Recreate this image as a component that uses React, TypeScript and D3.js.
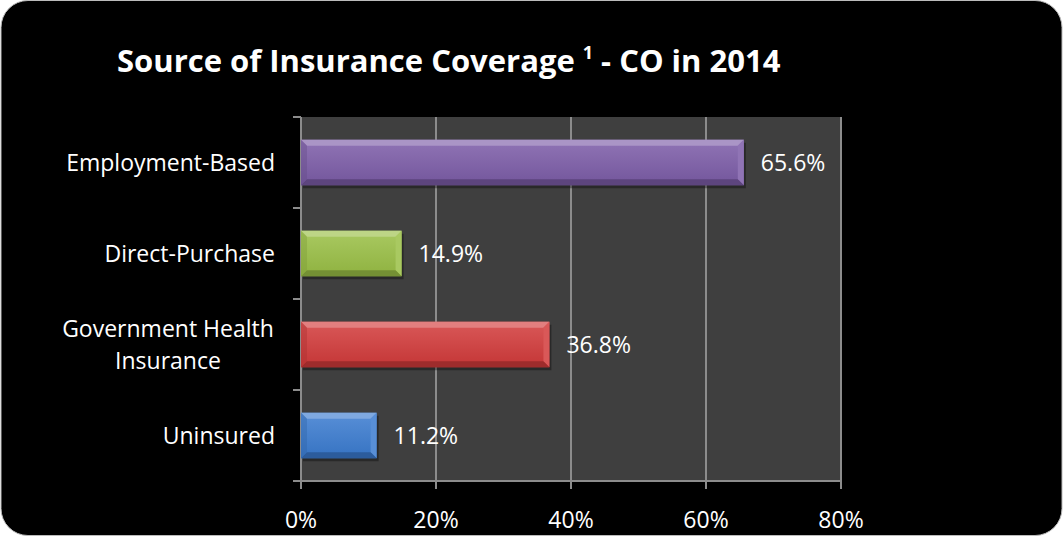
import React from "react";
import * as d3 from "d3";

const categories = ["Employment-Based", "Direct-Purchase", "Government Health\nInsurance", "Uninsured"];
const values = [65.6, 14.9, 36.8, 11.2];
const valueLabels = ["65.6%", "14.9%", "36.8%", "11.2%"];
const barColors = ["#7c5ca8", "#9abf45", "#d23a3a", "#3a7bd0"];
const xTicks = [0, 20, 40, 60, 80];
const xTickLabels = ["0%", "20%", "40%", "60%", "80%"];

const W = 1064, H = 537;
const plot = { left: 301, right: 841, top: 117, bottom: 481 };
const FONT = "'Open Sans', 'Noto Sans', sans-serif";
const FS = 23;

function Bar({ id, x0, x1, y0, y1, color }: { id: string; x0: number; x1: number; y0: number; y1: number; color: string }) {
  const b = 6;
  const c = d3.color(color)!;
  const light = d3.interpolateRgb(color, "#ffffff")(0.35);
  const lighter = d3.interpolateRgb(color, "#ffffff")(0.15);
  const dark = c.darker(0.6).formatHex();
  const darker = c.darker(0.8).formatHex();
  const pts = (a: number[][]) => a.map((p) => p.join(",")).join(" ");
  return (
    <g>
      <defs>
        <linearGradient id={id} x1="0" y1="0" x2="0" y2="1">
          <stop offset="0" stopColor={lighter} />
          <stop offset="1" stopColor={c.darker(0.2).formatHex()} />
        </linearGradient>
      </defs>
      <rect x={x0 + 2} y={y0 + 3} width={x1 - x0} height={y1 - y0} fill="#000" opacity={0.35} />
      <rect x={x0} y={y0} width={x1 - x0} height={y1 - y0} fill={`url(#${id})`} />
      <polygon points={pts([[x0, y0], [x1, y0], [x1 - b, y0 + b], [x0 + b, y0 + b]])} fill={light} />
      <polygon points={pts([[x1, y0], [x1, y1], [x1 - b, y1 - b], [x1 - b, y0 + b]])} fill={lighter} />
      <polygon points={pts([[x0, y1], [x1, y1], [x1 - b, y1 - b], [x0 + b, y1 - b]])} fill={darker} />
      <polygon points={pts([[x0, y0], [x0 + b, y0 + b], [x0 + b, y1 - b], [x0, y1]])} fill={dark} opacity={0.4} />
    </g>
  );
}

export default function App() {
  const x = d3.scaleLinear().domain([0, 80]).range([plot.left, plot.right]);
  const y = d3.scaleBand<number>().domain(d3.range(categories.length)).range([plot.top, plot.bottom]).paddingInner(0.5).paddingOuter(0.25);
  const bandEdges = d3.range(categories.length + 1).map((i) => plot.top + (i * (plot.bottom - plot.top)) / categories.length);
  const grid = "#8c8c8c";
  return (
    <svg width={W} height={H} style={{ position: "absolute", left: 0, top: 0, display: "block" }}>
      <rect x={0} y={0} width={W} height={H} fill="#fff" />
      <rect x={1} y={0.5} width={W - 3} height={H - 2} rx={27} ry={27} fill="#000" stroke="#bbb" strokeWidth={1} />
      <text x={117} y={72} fill="#fff" fontFamily={FONT} fontWeight="bold" fontSize={31}>
        Source of Insurance Coverage <tspan fontSize={18} dy={-13}>1</tspan>
        <tspan dy={13}> - CO in 2014</tspan>
      </text>
      <rect x={plot.left} y={plot.top} width={plot.right - plot.left} height={plot.bottom - plot.top} fill="#3f3f3f" />
      {xTicks.slice(1).map((t) => (
        <line key={t} x1={x(t)} x2={x(t)} y1={plot.top} y2={plot.bottom + 8} stroke={grid} strokeWidth={2} />
      ))}
      <line x1={plot.left} x2={plot.left} y1={plot.top} y2={plot.bottom + 8} stroke={grid} strokeWidth={2} />
      <line x1={plot.left} x2={plot.right} y1={plot.bottom} y2={plot.bottom} stroke={grid} strokeWidth={2} />
      {bandEdges.map((e, i) => (
        <line key={i} x1={plot.left - 8} x2={plot.left} y1={e} y2={e} stroke={grid} strokeWidth={2} />
      ))}
      {values.map((v, i) => {
        const y0 = y(i)!;
        const bw = y.bandwidth();
        return (
          <g key={i}>
            <Bar id={`g${i}`} x0={x(0)} x1={x(v)} y0={y0} y1={y0 + bw} color={barColors[i]} />
            <text x={x(v) + 17} y={y0 + bw / 2 + 8} fill="#fff" fontFamily={FONT} fontSize={FS}>
              {valueLabels[i]}
            </text>
          </g>
        );
      })}
      {categories.map((c, i) => {
        const lines = c.split("\n");
        const cy = y(i)! + y.bandwidth() / 2;
        if (lines.length === 1) {
          return (
            <text key={i} x={275} y={cy + 8} fill="#fff" fontFamily={FONT} fontSize={FS} textAnchor="end">
              {c}
            </text>
          );
        }
        return (
          <text key={i} x={168} y={cy - 16 + 8} fill="#fff" fontFamily={FONT} fontSize={FS} textAnchor="middle">
            {lines.map((l, j) => (
              <tspan key={j} x={168} dy={j === 0 ? 0 : 32}>{l}</tspan>
            ))}
          </text>
        );
      })}
      {xTicks.map((t, i) => (
        <text key={t} x={x(t)} y={528} fill="#fff" fontFamily={FONT} fontSize={FS} textAnchor="middle">
          {xTickLabels[i]}
        </text>
      ))}
    </svg>
  );
}
